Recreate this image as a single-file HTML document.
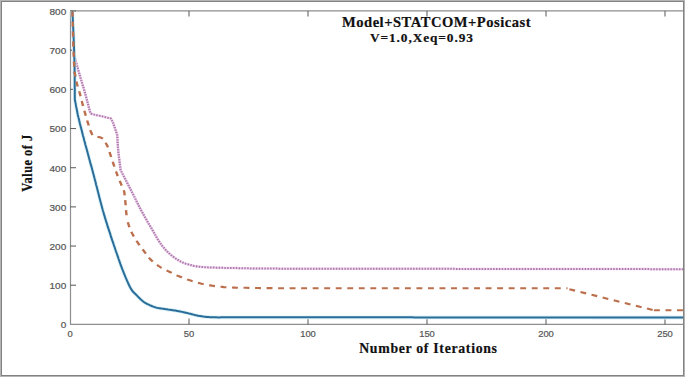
<!DOCTYPE html>
<html><head><meta charset="utf-8"><style>
html,body{margin:0;padding:0;background:#fff;}
body{width:685px;height:377px;overflow:hidden;position:relative;}
svg{position:absolute;left:0;top:0;}
</style></head><body>
<svg width="685" height="377" viewBox="0 0 685 377">
<rect x="0" y="0" width="685" height="377" fill="#ffffff"/>
<g>
<g stroke="#8e8e8e" stroke-width="1.2" fill="none">
<line x1="70.5" y1="10.9" x2="70.5" y2="324.4"/>
<line x1="70" y1="324.35" x2="683" y2="324.35"/>
<line x1="70" y1="10.9" x2="683" y2="10.9"/>
</g>
<g stroke="#656565" stroke-width="1.1" fill="none"><line x1="70" y1="285.22" x2="76" y2="285.22"/><line x1="70" y1="246.05" x2="76" y2="246.05"/><line x1="70" y1="206.88" x2="76" y2="206.88"/><line x1="70" y1="167.70" x2="76" y2="167.70"/><line x1="70" y1="128.52" x2="76" y2="128.52"/><line x1="70" y1="89.35" x2="76" y2="89.35"/><line x1="70" y1="50.18" x2="76" y2="50.18"/><line x1="70" y1="11.00" x2="76" y2="11.00"/><line x1="189.00" y1="324.4" x2="189.00" y2="318.6"/><line x1="189.00" y1="11" x2="189.00" y2="16.5"/><line x1="308.00" y1="324.4" x2="308.00" y2="318.6"/><line x1="308.00" y1="11" x2="308.00" y2="16.5"/><line x1="427.00" y1="324.4" x2="427.00" y2="318.6"/><line x1="427.00" y1="11" x2="427.00" y2="16.5"/><line x1="546.00" y1="324.4" x2="546.00" y2="318.6"/><line x1="546.00" y1="11" x2="546.00" y2="16.5"/><line x1="665.00" y1="324.4" x2="665.00" y2="318.6"/><line x1="665.00" y1="11" x2="665.00" y2="16.5"/></g>
<g font-family="Liberation Sans, sans-serif" font-size="9.8" fill="#555" stroke="#555" stroke-width="0.22"><text transform="translate(66.2,328.25) scale(1.02,1)" text-anchor="end">0</text><text transform="translate(66.2,289.07) scale(1.02,1)" text-anchor="end">100</text><text transform="translate(66.2,249.90) scale(1.02,1)" text-anchor="end">200</text><text transform="translate(66.2,210.72) scale(1.02,1)" text-anchor="end">300</text><text transform="translate(66.2,171.55) scale(1.02,1)" text-anchor="end">400</text><text transform="translate(66.2,132.37) scale(1.02,1)" text-anchor="end">500</text><text transform="translate(66.2,93.20) scale(1.02,1)" text-anchor="end">600</text><text transform="translate(66.2,54.03) scale(1.02,1)" text-anchor="end">700</text><text transform="translate(66.2,14.85) scale(1.02,1)" text-anchor="end">800</text><text transform="translate(70.00,337.4) scale(0.96,1)" text-anchor="middle">0</text><text transform="translate(189.00,337.4) scale(0.96,1)" text-anchor="middle">50</text><text transform="translate(308.00,337.4) scale(0.96,1)" text-anchor="middle">100</text><text transform="translate(427.00,337.4) scale(0.96,1)" text-anchor="middle">150</text><text transform="translate(546.00,337.4) scale(0.96,1)" text-anchor="middle">200</text><text transform="translate(665.00,337.4) scale(0.96,1)" text-anchor="middle">250</text></g>
<polyline points="72.4,11.0 72.4,12.6 72.5,14.2 72.5,15.8 72.6,17.4 72.6,19.1 72.7,20.7 72.7,22.4 72.7,24.1 72.8,25.7 72.8,27.4 72.9,29.0 72.9,30.7 73.0,32.3 73.0,33.9 73.1,35.4 73.1,36.9 73.2,38.4 73.2,39.8 73.3,41.2 73.4,42.5 73.4,43.8 73.5,45.0 73.6,46.9 73.8,48.6 74.0,50.2 74.1,51.7 74.3,53.1 74.5,54.6 74.6,56.1 74.8,57.6 75.2,59.2 75.7,60.7 76.1,62.3 76.5,63.8 76.9,65.4 77.4,67.0 77.8,68.6 78.3,70.3 78.8,72.0 79.2,73.3 79.6,74.7 80.0,76.1 80.4,77.6 80.9,79.0 81.3,80.5 81.8,82.0 82.2,83.6 82.7,85.1 83.1,86.6 83.6,88.1 84.0,89.6 84.5,91.1 84.9,92.6 85.3,94.0 85.7,95.5 86.1,97.0 86.5,98.5 86.9,100.0 87.3,101.5 87.7,103.0 88.1,104.5 88.5,105.9 88.9,107.4 89.2,108.9 89.6,110.3 90.0,111.8 90.4,113.3 90.9,113.5 91.5,113.8 92.2,114.0 93.2,114.3 94.3,114.6 95.7,114.9 97.2,115.3 98.8,115.6 100.5,116.0 102.3,116.4 104.1,116.8 105.9,117.3 107.6,117.7 109.3,118.0 110.8,118.4 111.7,120.0 112.6,121.8 113.2,123.2 113.8,124.8 114.3,126.4 114.9,128.0 115.5,129.7 116.1,131.5 116.6,133.2 117.2,135.0 117.3,136.5 117.4,138.0 117.5,139.4 117.6,140.9 117.6,142.4 117.7,143.8 117.8,145.3 117.9,146.9 118.1,148.4 118.2,150.0 118.3,151.4 118.5,152.9 118.7,154.4 118.8,155.9 119.0,157.5 119.2,159.0 119.4,160.6 119.6,162.2 119.8,163.8 120.0,165.3 120.2,166.9 120.4,168.5 120.6,170.0 121.3,171.4 122.0,172.8 122.7,174.1 123.4,175.5 124.2,176.9 124.9,178.3 125.6,179.7 126.3,181.1 127.0,182.4 127.7,183.8 128.4,185.2 129.1,186.6 129.8,187.9 130.5,189.3 131.2,190.7 131.9,192.0 132.6,193.5 133.4,194.9 134.1,196.4 134.8,197.8 135.5,199.2 136.3,200.7 137.0,202.1 137.7,203.5 138.4,205.0 139.1,206.4 139.9,207.8 140.6,209.2 141.3,210.6 142.1,212.0 142.9,213.4 143.6,214.8 144.4,216.2 145.2,217.6 146.0,219.0 146.8,220.4 147.6,221.8 148.4,223.2 149.2,224.6 150.0,225.9 150.8,227.2 151.5,228.5 152.3,229.8 153.0,231.0 153.9,232.5 154.7,234.0 155.5,235.4 156.3,236.8 157.1,238.2 157.9,239.5 158.7,240.8 159.5,242.0 160.3,243.2 161.3,244.6 162.3,246.0 163.3,247.2 164.4,248.4 165.4,249.6 166.5,250.8 167.6,251.9 168.8,253.0 170.0,254.1 171.2,255.1 172.4,256.1 173.6,257.0 175.0,258.0 176.4,259.0 177.8,259.9 179.3,260.8 180.8,261.6 182.3,262.3 183.9,263.0 185.5,263.6 187.2,264.1 188.9,264.6 190.3,265.0 191.7,265.3 193.1,265.7 194.5,266.0 196.0,266.2 197.6,266.5 199.2,266.7 200.6,266.9 202.1,267.0 203.6,267.1 205.1,267.2 206.7,267.3 208.3,267.4 209.9,267.4 211.6,267.5 213.3,267.5 215.0,267.6 216.4,267.7 217.8,267.7 219.3,267.8 220.8,267.8 222.3,267.8 223.9,267.9 225.4,267.9 227.0,268.0 228.6,268.0 230.2,268.0 231.8,268.0 233.5,268.1 235.1,268.1 236.7,268.1 238.4,268.2 240.0,268.2 241.4,268.2 242.8,268.3 244.1,268.3 245.5,268.3 246.8,268.3 248.1,268.3 249.4,268.4 250.7,268.4 252.0,268.4 253.4,268.4 254.8,268.4 256.2,268.5 257.7,268.5 259.2,268.5 260.8,268.5 262.5,268.5 264.2,268.6 266.1,268.6 268.0,268.6 270.0,268.6 270.9,268.6 271.9,268.6 272.9,268.6 273.9,268.6 274.9,268.6 275.9,268.6 276.9,268.6 278.0,268.6 279.1,268.7 280.2,268.7 281.3,268.7 282.4,268.7 283.6,268.7 284.7,268.7 285.9,268.7 287.1,268.7 288.3,268.7 289.5,268.7 290.7,268.7 292.0,268.7 293.3,268.7 294.5,268.7 295.8,268.7 297.1,268.7 298.5,268.7 299.8,268.7 301.1,268.7 302.5,268.7 303.9,268.7 305.3,268.7 306.7,268.7 308.1,268.7 309.5,268.7 310.9,268.7 312.4,268.7 313.8,268.7 315.3,268.7 316.8,268.7 318.2,268.7 319.7,268.7 321.2,268.7 322.8,268.7 324.3,268.7 325.8,268.7 327.4,268.8 328.9,268.8 330.5,268.8 332.1,268.8 333.6,268.8 335.2,268.8 336.8,268.8 338.4,268.8 340.0,268.8 341.6,268.8 343.3,268.8 344.9,268.8 346.5,268.8 348.2,268.8 349.8,268.8 351.5,268.8 353.1,268.8 354.8,268.8 356.5,268.8 358.2,268.8 359.8,268.8 361.5,268.8 363.2,268.8 364.9,268.8 366.6,268.8 368.3,268.8 370.0,268.8 371.7,268.8 373.4,268.8 375.2,268.8 376.9,268.8 378.6,268.8 380.3,268.8 382.0,268.8 383.8,268.8 385.5,268.8 387.2,268.8 388.9,268.8 390.7,268.8 392.4,268.8 394.1,268.8 395.9,268.8 397.6,268.8 399.3,268.8 401.1,268.8 402.8,268.8 404.5,268.8 406.2,268.8 408.0,268.8 409.7,268.8 411.4,268.8 413.1,268.8 414.9,268.8 416.6,268.8 418.3,268.8 420.0,268.8 421.3,268.8 422.6,268.8 423.9,268.8 425.2,268.8 426.5,268.8 427.8,268.8 429.2,268.8 430.5,268.8 431.8,268.8 433.2,268.8 434.5,268.8 435.9,268.8 437.2,268.8 438.6,268.8 439.9,268.8 441.3,268.8 442.6,268.8 444.0,268.8 445.4,268.8 446.8,268.8 448.2,268.8 449.5,268.8 450.9,268.8 452.3,268.8 453.7,268.8 455.1,268.9 456.5,268.9 457.9,268.9 459.4,268.9 460.8,268.9 462.2,268.9 463.6,268.9 465.0,268.9 466.5,268.9 467.9,268.9 469.3,268.9 470.8,268.9 472.2,268.9 473.7,268.9 475.1,268.9 476.6,268.9 478.0,268.9 479.5,268.9 481.0,268.9 482.4,268.9 483.9,268.9 485.4,268.9 486.8,268.9 488.3,268.9 489.8,268.9 491.3,268.9 492.8,268.9 494.3,268.9 495.7,268.9 497.2,268.9 498.7,268.9 500.2,268.9 501.7,268.9 503.2,268.9 504.7,268.9 506.2,268.9 507.8,268.9 509.3,268.9 510.8,268.9 512.3,268.9 513.8,268.9 515.3,268.9 516.9,268.9 518.4,268.9 519.9,268.9 521.4,269.0 523.0,269.0 524.5,269.0 526.0,269.0 527.6,269.0 529.1,269.0 530.7,269.0 532.2,269.0 533.7,269.0 535.3,269.0 536.8,269.0 538.4,269.0 539.9,269.0 541.5,269.0 543.0,269.0 544.6,269.0 546.1,269.0 547.7,269.0 549.2,269.0 550.8,269.0 552.4,269.0 553.9,269.0 555.5,269.0 557.0,269.0 558.6,269.0 560.2,269.0 561.7,269.0 563.3,269.0 564.9,269.0 566.4,269.0 568.0,269.0 569.6,269.0 571.1,269.0 572.7,269.0 574.3,269.0 575.8,269.0 577.4,269.0 579.0,269.0 580.6,269.0 582.1,269.0 583.7,269.0 585.3,269.0 586.9,269.1 588.4,269.1 590.0,269.1 591.6,269.1 593.1,269.1 594.7,269.1 596.3,269.1 597.9,269.1 599.4,269.1 601.0,269.1 602.6,269.1 604.1,269.1 605.7,269.1 607.3,269.1 608.9,269.1 610.4,269.1 612.0,269.1 613.6,269.1 615.1,269.1 616.7,269.1 618.3,269.1 619.8,269.1 621.4,269.1 623.0,269.1 624.5,269.1 626.1,269.1 627.7,269.1 629.2,269.1 630.8,269.1 632.3,269.1 633.9,269.1 635.5,269.1 637.0,269.1 638.6,269.1 640.1,269.1 641.7,269.1 643.2,269.1 644.8,269.1 646.3,269.1 647.9,269.1 649.4,269.1 651.0,269.2 652.5,269.2 654.1,269.2 655.6,269.2 657.1,269.2 658.7,269.2 660.2,269.2 661.7,269.2 663.3,269.2 664.8,269.2 666.3,269.2 667.9,269.2 669.4,269.2 670.9,269.2 672.4,269.2 673.9,269.2 675.5,269.2 677.0,269.2 678.5,269.2 680.0,269.2 681.5,269.2 683.0,269.2" fill="none" stroke="#f0d0ef" stroke-width="2.5" stroke-linejoin="round"/>
<g transform="scale(1.15,1)"><polyline points="62.96,11.0 63.00,12.6 63.04,14.2 63.08,15.8 63.12,17.4 63.15,19.1 63.19,20.7 63.22,22.4 63.26,24.1 63.29,25.7 63.33,27.4 63.37,29.0 63.40,30.7 63.44,32.3 63.48,33.9 63.53,35.4 63.57,36.9 63.62,38.4 63.67,39.8 63.73,41.2 63.78,42.5 63.85,43.8 63.91,45.0 64.03,46.9 64.17,48.6 64.31,50.2 64.45,51.7 64.60,53.1 64.75,54.6 64.90,56.1 65.04,57.6 65.42,59.2 65.80,60.7 66.17,62.3 66.54,63.8 66.91,65.4 67.29,67.0 67.68,68.6 68.09,70.3 68.52,72.0 68.86,73.3 69.21,74.7 69.57,76.1 69.95,77.6 70.33,79.0 70.72,80.5 71.11,82.0 71.51,83.6 71.91,85.1 72.30,86.6 72.69,88.1 73.08,89.6 73.46,91.1 73.82,92.6 74.17,94.0 74.54,95.5 74.90,97.0 75.25,98.5 75.60,100.0 75.94,101.5 76.27,103.0 76.61,104.5 76.94,105.9 77.27,107.4 77.60,108.9 77.93,110.3 78.27,111.8 78.61,113.3 79.01,113.5 79.57,113.8 80.18,114.0 81.01,114.3 82.02,114.6 83.20,114.9 84.51,115.3 85.93,115.6 87.41,116.0 88.95,116.4 90.51,116.8 92.05,117.3 93.56,117.7 95.00,118.0 96.35,118.4 97.13,120.0 97.91,121.8 98.42,123.2 98.92,124.8 99.42,126.4 99.91,128.0 100.42,129.7 100.92,131.5 101.42,133.2 101.91,135.0 102.00,136.5 102.07,138.0 102.15,139.4 102.22,140.9 102.29,142.4 102.37,143.8 102.46,145.3 102.55,146.9 102.66,148.4 102.78,150.0 102.91,151.4 103.04,152.9 103.19,154.4 103.34,155.9 103.50,157.5 103.67,159.0 103.84,160.6 104.01,162.2 104.19,163.8 104.36,165.3 104.54,166.9 104.71,168.5 104.87,170.0 105.48,171.4 106.10,172.8 106.72,174.1 107.34,175.5 107.96,176.9 108.58,178.3 109.20,179.7 109.82,181.1 110.43,182.4 111.05,183.8 111.66,185.2 112.28,186.6 112.89,187.9 113.49,189.3 114.10,190.7 114.70,192.0 115.34,193.5 115.98,194.9 116.61,196.4 117.24,197.8 117.87,199.2 118.49,200.7 119.11,202.1 119.74,203.5 120.36,205.0 120.99,206.4 121.62,207.8 122.26,209.2 122.91,210.6 123.57,212.0 124.22,213.4 124.90,214.8 125.58,216.2 126.27,217.6 126.97,219.0 127.67,220.4 128.37,221.8 129.07,223.2 129.76,224.6 130.44,225.9 131.12,227.2 131.78,228.5 132.42,229.8 133.04,231.0 133.80,232.5 134.53,234.0 135.24,235.4 135.93,236.8 136.62,238.2 137.31,239.5 137.99,240.8 138.69,242.0 139.39,243.2 140.27,244.6 141.15,246.0 142.02,247.2 142.91,248.4 143.83,249.6 144.78,250.8 145.76,251.9 146.76,253.0 147.79,254.1 148.84,255.1 149.89,256.1 150.96,257.0 152.17,258.0 153.40,259.0 154.64,259.9 155.91,260.8 157.22,261.6 158.56,262.3 159.93,263.0 161.33,263.6 162.77,264.1 164.26,264.6 165.46,265.0 166.67,265.3 167.91,265.7 169.17,266.0 170.48,266.2 171.82,266.5 173.22,266.7 174.45,266.9 175.72,267.0 177.02,267.1 178.34,267.2 179.70,267.3 181.09,267.4 182.51,267.4 183.96,267.5 185.44,267.5 186.96,267.6 188.17,267.7 189.42,267.7 190.70,267.8 191.99,267.8 193.32,267.8 194.66,267.9 196.02,267.9 197.39,268.0 198.78,268.0 200.18,268.0 201.59,268.0 203.00,268.1 204.43,268.1 205.85,268.1 207.27,268.2 208.70,268.2 209.92,268.2 211.12,268.3 212.29,268.3 213.44,268.3 214.58,268.3 215.72,268.3 216.86,268.4 218.00,268.4 219.16,268.4 220.34,268.4 221.55,268.4 222.80,268.5 224.08,268.5 225.42,268.5 226.80,268.5 228.25,268.5 229.77,268.6 231.36,268.6 233.03,268.6 234.78,268.6 235.60,268.6 236.43,268.6 237.27,268.6 238.14,268.6 239.01,268.6 239.91,268.6 240.81,268.6 241.74,268.6 242.67,268.7 243.63,268.7 244.59,268.7 245.57,268.7 246.57,268.7 247.58,268.7 248.60,268.7 249.64,268.7 250.69,268.7 251.75,268.7 252.82,268.7 253.91,268.7 255.01,268.7 256.12,268.7 257.25,268.7 258.38,268.7 259.53,268.7 260.69,268.7 261.86,268.7 263.05,268.7 264.24,268.7 265.44,268.7 266.66,268.7 267.88,268.7 269.12,268.7 270.36,268.7 271.62,268.7 272.88,268.7 274.16,268.7 275.44,268.7 276.73,268.7 278.04,268.7 279.35,268.7 280.66,268.7 281.99,268.7 283.33,268.7 284.67,268.8 286.02,268.8 287.38,268.8 288.75,268.8 290.12,268.8 291.50,268.8 292.89,268.8 294.28,268.8 295.68,268.8 297.08,268.8 298.50,268.8 299.91,268.8 301.34,268.8 302.77,268.8 304.20,268.8 305.64,268.8 307.09,268.8 308.53,268.8 309.99,268.8 311.45,268.8 312.91,268.8 314.37,268.8 315.84,268.8 317.32,268.8 318.79,268.8 320.27,268.8 321.76,268.8 323.24,268.8 324.73,268.8 326.22,268.8 327.72,268.8 329.21,268.8 330.71,268.8 332.21,268.8 333.71,268.8 335.21,268.8 336.71,268.8 338.21,268.8 339.72,268.8 341.22,268.8 342.73,268.8 344.23,268.8 345.74,268.8 347.24,268.8 348.75,268.8 350.25,268.8 351.76,268.8 353.26,268.8 354.76,268.8 356.26,268.8 357.76,268.8 359.25,268.8 360.75,268.8 362.24,268.8 363.73,268.8 365.22,268.8 366.34,268.8 367.47,268.8 368.61,268.8 369.75,268.8 370.89,268.8 372.04,268.8 373.19,268.8 374.34,268.8 375.50,268.8 376.67,268.8 377.83,268.8 379.00,268.8 380.18,268.8 381.35,268.8 382.53,268.8 383.72,268.8 384.91,268.8 386.10,268.8 387.30,268.8 388.49,268.8 389.70,268.8 390.90,268.8 392.11,268.8 393.32,268.8 394.54,268.8 395.76,268.9 396.98,268.9 398.21,268.9 399.44,268.9 400.67,268.9 401.90,268.9 403.14,268.9 404.38,268.9 405.63,268.9 406.87,268.9 408.12,268.9 409.38,268.9 410.63,268.9 411.89,268.9 413.15,268.9 414.42,268.9 415.68,268.9 416.95,268.9 418.22,268.9 419.50,268.9 420.78,268.9 422.06,268.9 423.34,268.9 424.62,268.9 425.91,268.9 427.20,268.9 428.49,268.9 429.78,268.9 431.08,268.9 432.38,268.9 433.68,268.9 434.98,268.9 436.29,268.9 437.60,268.9 438.91,268.9 440.22,268.9 441.53,268.9 442.84,268.9 444.16,268.9 445.48,268.9 446.80,268.9 448.12,268.9 449.45,268.9 450.77,268.9 452.10,268.9 453.43,269.0 454.76,269.0 456.10,269.0 457.43,269.0 458.77,269.0 460.10,269.0 461.44,269.0 462.78,269.0 464.12,269.0 465.47,269.0 466.81,269.0 468.16,269.0 469.50,269.0 470.85,269.0 472.20,269.0 473.55,269.0 474.90,269.0 476.25,269.0 477.61,269.0 478.96,269.0 480.32,269.0 481.67,269.0 483.03,269.0 484.39,269.0 485.75,269.0 487.11,269.0 488.47,269.0 489.83,269.0 491.19,269.0 492.55,269.0 493.92,269.0 495.28,269.0 496.64,269.0 498.01,269.0 499.37,269.0 500.74,269.0 502.10,269.0 503.47,269.0 504.84,269.0 506.20,269.0 507.57,269.0 508.94,269.0 510.30,269.1 511.67,269.1 513.04,269.1 514.41,269.1 515.77,269.1 517.14,269.1 518.51,269.1 519.88,269.1 521.24,269.1 522.61,269.1 523.98,269.1 525.35,269.1 526.71,269.1 528.08,269.1 529.44,269.1 530.81,269.1 532.17,269.1 533.54,269.1 534.90,269.1 536.27,269.1 537.63,269.1 538.99,269.1 540.35,269.1 541.72,269.1 543.08,269.1 544.44,269.1 545.79,269.1 547.15,269.1 548.51,269.1 549.87,269.1 551.22,269.1 552.58,269.1 553.93,269.1 555.28,269.1 556.64,269.1 557.99,269.1 559.34,269.1 560.68,269.1 562.03,269.1 563.38,269.1 564.72,269.1 566.07,269.2 567.41,269.2 568.75,269.2 570.09,269.2 571.43,269.2 572.76,269.2 574.10,269.2 575.43,269.2 576.76,269.2 578.09,269.2 579.42,269.2 580.75,269.2 582.07,269.2 583.39,269.2 584.72,269.2 586.04,269.2 587.35,269.2 588.67,269.2 589.98,269.2 591.30,269.2 592.61,269.2 593.91,269.2" fill="none" stroke="#a87ca6" stroke-width="2" stroke-dasharray="1.261 1.226" stroke-linejoin="round"/></g>
<polyline points="72.4,11.0 72.5,12.6 72.5,14.1 72.6,15.7 72.7,17.3 72.8,18.8 72.8,20.4 72.9,22.0 73.0,23.6 73.1,25.2 73.1,26.7 73.2,28.3 73.3,29.9 73.3,31.5 73.4,33.0 73.5,34.6 73.5,36.1 73.6,37.6 73.7,39.1 73.7,40.6 73.8,42.1 73.8,43.6 73.9,45.0 74.0,46.7 74.0,48.3 74.1,49.9 74.1,51.5 74.2,53.0 74.2,54.6 74.3,56.1 74.3,57.6 74.4,59.1 74.4,60.6 74.4,62.2 74.5,63.7 74.5,65.2 74.5,66.8 74.6,68.4 74.6,70.0 74.6,71.5 74.6,73.0 74.7,74.5 74.7,76.1 74.7,77.6 74.7,79.1 74.7,80.7 74.7,82.2 74.7,83.8 74.7,85.4 74.7,87.0 74.8,88.5 74.8,90.1 74.8,91.7 74.8,93.2 74.8,94.8 74.8,96.4 74.8,97.9 74.8,99.5 75.1,101.0 75.4,102.5 75.7,103.9 75.9,105.4 76.2,106.9 76.5,108.3 76.8,109.8 77.1,111.3 77.4,112.8 77.7,114.4 78.1,116.0 78.4,117.4 78.8,118.8 79.1,120.3 79.5,121.7 79.8,123.2 80.2,124.7 80.6,126.2 81.0,127.7 81.4,129.3 81.8,130.8 82.2,132.4 82.6,134.0 83.0,135.7 83.5,137.3 83.9,139.0 84.2,140.3 84.6,141.7 85.0,143.0 85.3,144.4 85.7,145.8 86.1,147.2 86.5,148.6 86.9,150.0 87.3,151.5 87.7,152.9 88.1,154.4 88.5,155.9 88.9,157.4 89.3,158.9 89.7,160.4 90.1,161.9 90.5,163.4 90.9,164.9 91.4,166.4 91.8,167.9 92.2,169.5 92.6,171.0 93.0,172.5 93.4,174.0 93.8,175.4 94.2,176.9 94.5,178.3 94.9,179.8 95.3,181.2 95.7,182.7 96.0,184.2 96.4,185.7 96.8,187.1 97.2,188.6 97.5,190.1 97.9,191.6 98.3,193.1 98.7,194.6 99.0,196.1 99.4,197.6 99.8,199.1 100.2,200.6 100.6,202.1 101.0,203.6 101.4,205.1 101.8,206.6 102.2,208.1 102.6,209.6 103.0,211.0 103.5,212.5 103.9,214.0 104.3,215.4 104.8,216.9 105.2,218.4 105.7,219.9 106.1,221.4 106.6,222.9 107.1,224.4 107.5,225.9 108.0,227.4 108.5,228.9 109.0,230.4 109.5,231.9 110.0,233.4 110.5,234.9 110.9,236.4 111.4,237.9 111.9,239.4 112.4,240.8 112.9,242.2 113.4,243.6 113.8,245.0 114.3,246.4 114.8,247.7 115.2,249.0 115.6,250.3 116.1,251.6 116.5,252.8 116.9,254.0 117.5,255.7 118.1,257.4 118.6,259.0 119.2,260.6 119.7,262.1 120.2,263.5 120.7,265.0 121.3,266.4 121.8,267.8 122.3,269.2 122.9,270.6 123.4,272.0 124.0,273.4 124.6,274.9 125.2,276.4 125.8,277.9 126.5,279.4 127.1,280.9 127.8,282.3 128.4,283.8 129.1,285.2 129.7,286.5 130.4,287.7 131.0,288.9 131.7,289.9 132.7,291.3 133.8,292.5 134.9,293.5 135.9,294.5 137.0,295.6 138.3,297.0 139.6,298.3 140.9,299.6 142.3,300.8 143.5,301.7 144.8,302.6 146.1,303.3 147.5,304.1 148.8,304.7 150.2,305.4 151.7,306.0 153.3,306.6 154.8,307.1 156.3,307.6 158.0,308.0 159.7,308.3 161.4,308.6 163.2,308.8 165.0,309.1 166.5,309.3 168.1,309.6 169.7,309.8 171.4,310.0 172.9,310.2 174.3,310.4 175.5,310.6 177.2,310.9 178.8,311.2 180.3,311.5 182.0,311.9 183.8,312.3 185.7,312.7 187.5,313.1 189.0,313.5 190.4,313.8 191.9,314.2 193.4,314.6 194.8,315.0 196.3,315.3 198.0,315.7 199.8,316.0 201.5,316.3 203.3,316.6 205.0,316.8 206.7,317.0 208.4,317.1 210.1,317.2 211.9,317.2 213.8,317.3 215.2,317.3 216.5,317.3 217.9,317.4 219.4,317.4 220.9,317.3 222.5,317.3 224.2,317.3 226.0,317.3 227.9,317.3 230.0,317.3 231.0,317.3 232.0,317.3 233.1,317.3 234.1,317.3 235.2,317.3 236.3,317.3 237.4,317.3 238.6,317.3 239.7,317.3 240.9,317.3 242.1,317.3 243.4,317.3 244.6,317.3 245.9,317.3 247.2,317.3 248.5,317.3 249.8,317.3 251.2,317.3 252.6,317.3 254.0,317.3 255.5,317.3 256.9,317.3 258.4,317.3 259.9,317.3 261.5,317.3 263.0,317.3 264.6,317.3 266.3,317.3 267.9,317.3 269.6,317.3 271.3,317.3 273.0,317.3 274.7,317.3 276.5,317.3 278.3,317.3 280.1,317.3 282.0,317.3 283.9,317.3 285.8,317.3 287.7,317.3 289.7,317.3 291.7,317.3 293.7,317.3 295.8,317.3 297.9,317.3 300.0,317.3 300.9,317.3 301.8,317.3 302.7,317.3 303.7,317.3 304.6,317.3 305.6,317.3 306.5,317.3 307.5,317.3 308.5,317.3 309.5,317.3 310.5,317.3 311.5,317.3 312.5,317.3 313.5,317.3 314.5,317.3 315.6,317.3 316.6,317.3 317.7,317.3 318.7,317.3 319.8,317.3 320.9,317.3 322.0,317.3 323.1,317.3 324.2,317.3 325.3,317.3 326.4,317.3 327.6,317.3 328.7,317.3 329.8,317.3 331.0,317.3 332.2,317.3 333.3,317.3 334.5,317.3 335.7,317.3 336.9,317.3 338.1,317.3 339.3,317.3 340.5,317.3 341.7,317.3 343.0,317.3 344.2,317.3 345.4,317.3 346.7,317.3 347.9,317.3 349.2,317.3 350.5,317.3 351.8,317.3 353.0,317.3 354.3,317.3 355.6,317.3 356.9,317.3 358.3,317.3 359.6,317.3 360.9,317.3 362.2,317.3 363.6,317.3 364.9,317.3 366.3,317.3 367.6,317.3 369.0,317.3 370.4,317.3 371.7,317.3 373.1,317.3 374.5,317.3 375.9,317.3 377.3,317.3 378.7,317.3 380.1,317.3 381.5,317.3 382.9,317.3 384.4,317.3 385.8,317.3 387.2,317.3 388.7,317.3 390.1,317.3 391.6,317.3 393.1,317.3 394.5,317.3 396.0,317.3 397.5,317.3 398.9,317.3 400.4,317.3 401.9,317.3 403.4,317.3 404.9,317.3 406.4,317.3 407.9,317.3 409.4,317.3 411.0,317.3 412.5,317.3 414.0,317.4 415.5,317.4 417.1,317.4 418.6,317.4 420.2,317.4 421.7,317.4 423.3,317.4 424.8,317.4 426.4,317.4 427.9,317.4 429.5,317.4 431.1,317.4 432.7,317.4 434.2,317.4 435.8,317.4 437.4,317.4 439.0,317.4 440.6,317.4 442.2,317.4 443.8,317.4 445.4,317.4 447.0,317.4 448.6,317.4 450.2,317.4 451.8,317.4 453.5,317.4 455.1,317.4 456.7,317.4 458.3,317.4 460.0,317.4 461.6,317.4 463.2,317.4 464.9,317.4 466.5,317.4 468.2,317.4 469.8,317.4 471.5,317.4 473.1,317.4 474.8,317.4 476.4,317.4 478.1,317.4 479.8,317.4 481.4,317.4 483.1,317.4 484.8,317.4 486.4,317.4 488.1,317.4 489.8,317.4 491.4,317.4 493.1,317.4 494.8,317.4 496.5,317.4 498.2,317.4 499.8,317.4 501.5,317.4 503.2,317.4 504.9,317.4 506.6,317.4 508.3,317.4 510.0,317.4 511.7,317.4 513.4,317.4 515.1,317.4 516.7,317.4 518.4,317.4 520.1,317.4 521.8,317.4 523.5,317.4 525.2,317.4 526.9,317.4 528.6,317.4 530.3,317.4 532.0,317.4 533.7,317.4 535.4,317.4 537.1,317.4 538.8,317.4 540.6,317.4 542.3,317.4 544.0,317.4 545.7,317.4 547.4,317.4 549.1,317.4 550.8,317.4 552.5,317.4 554.2,317.4 555.9,317.4 557.6,317.4 559.3,317.4 561.0,317.4 562.7,317.4 564.4,317.4 566.1,317.4 567.8,317.4 569.5,317.4 571.2,317.4 572.9,317.4 574.6,317.4 576.2,317.4 577.9,317.4 579.6,317.4 581.3,317.4 583.0,317.4 584.7,317.4 586.4,317.4 588.1,317.4 589.7,317.4 591.4,317.4 593.1,317.5 594.8,317.5 596.5,317.5 598.1,317.5 599.8,317.5 601.5,317.5 603.2,317.5 604.8,317.5 606.5,317.5 608.2,317.5 609.8,317.5 611.5,317.5 613.1,317.5 614.8,317.5 616.4,317.5 618.1,317.5 619.7,317.5 621.4,317.5 623.0,317.5 624.7,317.5 626.3,317.5 627.9,317.5 629.6,317.5 631.2,317.5 632.8,317.5 634.4,317.5 636.1,317.5 637.7,317.5 639.3,317.5 640.9,317.5 642.5,317.5 644.1,317.5 645.7,317.5 647.3,317.5 648.9,317.5 650.5,317.5 652.1,317.5 653.7,317.5 655.3,317.5 656.8,317.5 658.4,317.5 660.0,317.5 661.5,317.5 663.1,317.5 664.7,317.5 666.2,317.5 667.8,317.5 669.3,317.5 670.8,317.5 672.4,317.5 673.9,317.5 675.4,317.5 677.0,317.5 678.5,317.5 680.0,317.5 681.5,317.5 683.0,317.5" fill="none" stroke="#dcf2f7" stroke-width="3.8" stroke-linejoin="round"/>
<polyline points="72.4,11.0 72.5,12.6 72.5,14.1 72.6,15.7 72.7,17.3 72.8,18.8 72.8,20.4 72.9,22.0 73.0,23.6 73.1,25.2 73.1,26.7 73.2,28.3 73.3,29.9 73.3,31.5 73.4,33.0 73.5,34.6 73.5,36.1 73.6,37.6 73.7,39.1 73.7,40.6 73.8,42.1 73.8,43.6 73.9,45.0 74.0,46.7 74.0,48.3 74.1,49.9 74.1,51.5 74.2,53.0 74.2,54.6 74.3,56.1 74.3,57.6 74.4,59.1 74.4,60.6 74.4,62.2 74.5,63.7 74.5,65.2 74.5,66.8 74.6,68.4 74.6,70.0 74.6,71.5 74.6,73.0 74.7,74.5 74.7,76.1 74.7,77.6 74.7,79.1 74.7,80.7 74.7,82.2 74.7,83.8 74.7,85.4 74.7,87.0 74.8,88.5 74.8,90.1 74.8,91.7 74.8,93.2 74.8,94.8 74.8,96.4 74.8,97.9 74.8,99.5 75.1,101.0 75.4,102.5 75.7,103.9 75.9,105.4 76.2,106.9 76.5,108.3 76.8,109.8 77.1,111.3 77.4,112.8 77.7,114.4 78.1,116.0 78.4,117.4 78.8,118.8 79.1,120.3 79.5,121.7 79.8,123.2 80.2,124.7 80.6,126.2 81.0,127.7 81.4,129.3 81.8,130.8 82.2,132.4 82.6,134.0 83.0,135.7 83.5,137.3 83.9,139.0 84.2,140.3 84.6,141.7 85.0,143.0 85.3,144.4 85.7,145.8 86.1,147.2 86.5,148.6 86.9,150.0 87.3,151.5 87.7,152.9 88.1,154.4 88.5,155.9 88.9,157.4 89.3,158.9 89.7,160.4 90.1,161.9 90.5,163.4 90.9,164.9 91.4,166.4 91.8,167.9 92.2,169.5 92.6,171.0 93.0,172.5 93.4,174.0 93.8,175.4 94.2,176.9 94.5,178.3 94.9,179.8 95.3,181.2 95.7,182.7 96.0,184.2 96.4,185.7 96.8,187.1 97.2,188.6 97.5,190.1 97.9,191.6 98.3,193.1 98.7,194.6 99.0,196.1 99.4,197.6 99.8,199.1 100.2,200.6 100.6,202.1 101.0,203.6 101.4,205.1 101.8,206.6 102.2,208.1 102.6,209.6 103.0,211.0 103.5,212.5 103.9,214.0 104.3,215.4 104.8,216.9 105.2,218.4 105.7,219.9 106.1,221.4 106.6,222.9 107.1,224.4 107.5,225.9 108.0,227.4 108.5,228.9 109.0,230.4 109.5,231.9 110.0,233.4 110.5,234.9 110.9,236.4 111.4,237.9 111.9,239.4 112.4,240.8 112.9,242.2 113.4,243.6 113.8,245.0 114.3,246.4 114.8,247.7 115.2,249.0 115.6,250.3 116.1,251.6 116.5,252.8 116.9,254.0 117.5,255.7 118.1,257.4 118.6,259.0 119.2,260.6 119.7,262.1 120.2,263.5 120.7,265.0 121.3,266.4 121.8,267.8 122.3,269.2 122.9,270.6 123.4,272.0 124.0,273.4 124.6,274.9 125.2,276.4 125.8,277.9 126.5,279.4 127.1,280.9 127.8,282.3 128.4,283.8 129.1,285.2 129.7,286.5 130.4,287.7 131.0,288.9 131.7,289.9 132.7,291.3 133.8,292.5 134.9,293.5 135.9,294.5 137.0,295.6 138.3,297.0 139.6,298.3 140.9,299.6 142.3,300.8 143.5,301.7 144.8,302.6 146.1,303.3 147.5,304.1 148.8,304.7 150.2,305.4 151.7,306.0 153.3,306.6 154.8,307.1 156.3,307.6 158.0,308.0 159.7,308.3 161.4,308.6 163.2,308.8 165.0,309.1 166.5,309.3 168.1,309.6 169.7,309.8 171.4,310.0 172.9,310.2 174.3,310.4 175.5,310.6 177.2,310.9 178.8,311.2 180.3,311.5 182.0,311.9 183.8,312.3 185.7,312.7 187.5,313.1 189.0,313.5 190.4,313.8 191.9,314.2 193.4,314.6 194.8,315.0 196.3,315.3 198.0,315.7 199.8,316.0 201.5,316.3 203.3,316.6 205.0,316.8 206.7,317.0 208.4,317.1 210.1,317.2 211.9,317.2 213.8,317.3 215.2,317.3 216.5,317.3 217.9,317.4 219.4,317.4 220.9,317.3 222.5,317.3 224.2,317.3 226.0,317.3 227.9,317.3 230.0,317.3 231.0,317.3 232.0,317.3 233.1,317.3 234.1,317.3 235.2,317.3 236.3,317.3 237.4,317.3 238.6,317.3 239.7,317.3 240.9,317.3 242.1,317.3 243.4,317.3 244.6,317.3 245.9,317.3 247.2,317.3 248.5,317.3 249.8,317.3 251.2,317.3 252.6,317.3 254.0,317.3 255.5,317.3 256.9,317.3 258.4,317.3 259.9,317.3 261.5,317.3 263.0,317.3 264.6,317.3 266.3,317.3 267.9,317.3 269.6,317.3 271.3,317.3 273.0,317.3 274.7,317.3 276.5,317.3 278.3,317.3 280.1,317.3 282.0,317.3 283.9,317.3 285.8,317.3 287.7,317.3 289.7,317.3 291.7,317.3 293.7,317.3 295.8,317.3 297.9,317.3 300.0,317.3 300.9,317.3 301.8,317.3 302.7,317.3 303.7,317.3 304.6,317.3 305.6,317.3 306.5,317.3 307.5,317.3 308.5,317.3 309.5,317.3 310.5,317.3 311.5,317.3 312.5,317.3 313.5,317.3 314.5,317.3 315.6,317.3 316.6,317.3 317.7,317.3 318.7,317.3 319.8,317.3 320.9,317.3 322.0,317.3 323.1,317.3 324.2,317.3 325.3,317.3 326.4,317.3 327.6,317.3 328.7,317.3 329.8,317.3 331.0,317.3 332.2,317.3 333.3,317.3 334.5,317.3 335.7,317.3 336.9,317.3 338.1,317.3 339.3,317.3 340.5,317.3 341.7,317.3 343.0,317.3 344.2,317.3 345.4,317.3 346.7,317.3 347.9,317.3 349.2,317.3 350.5,317.3 351.8,317.3 353.0,317.3 354.3,317.3 355.6,317.3 356.9,317.3 358.3,317.3 359.6,317.3 360.9,317.3 362.2,317.3 363.6,317.3 364.9,317.3 366.3,317.3 367.6,317.3 369.0,317.3 370.4,317.3 371.7,317.3 373.1,317.3 374.5,317.3 375.9,317.3 377.3,317.3 378.7,317.3 380.1,317.3 381.5,317.3 382.9,317.3 384.4,317.3 385.8,317.3 387.2,317.3 388.7,317.3 390.1,317.3 391.6,317.3 393.1,317.3 394.5,317.3 396.0,317.3 397.5,317.3 398.9,317.3 400.4,317.3 401.9,317.3 403.4,317.3 404.9,317.3 406.4,317.3 407.9,317.3 409.4,317.3 411.0,317.3 412.5,317.3 414.0,317.4 415.5,317.4 417.1,317.4 418.6,317.4 420.2,317.4 421.7,317.4 423.3,317.4 424.8,317.4 426.4,317.4 427.9,317.4 429.5,317.4 431.1,317.4 432.7,317.4 434.2,317.4 435.8,317.4 437.4,317.4 439.0,317.4 440.6,317.4 442.2,317.4 443.8,317.4 445.4,317.4 447.0,317.4 448.6,317.4 450.2,317.4 451.8,317.4 453.5,317.4 455.1,317.4 456.7,317.4 458.3,317.4 460.0,317.4 461.6,317.4 463.2,317.4 464.9,317.4 466.5,317.4 468.2,317.4 469.8,317.4 471.5,317.4 473.1,317.4 474.8,317.4 476.4,317.4 478.1,317.4 479.8,317.4 481.4,317.4 483.1,317.4 484.8,317.4 486.4,317.4 488.1,317.4 489.8,317.4 491.4,317.4 493.1,317.4 494.8,317.4 496.5,317.4 498.2,317.4 499.8,317.4 501.5,317.4 503.2,317.4 504.9,317.4 506.6,317.4 508.3,317.4 510.0,317.4 511.7,317.4 513.4,317.4 515.1,317.4 516.7,317.4 518.4,317.4 520.1,317.4 521.8,317.4 523.5,317.4 525.2,317.4 526.9,317.4 528.6,317.4 530.3,317.4 532.0,317.4 533.7,317.4 535.4,317.4 537.1,317.4 538.8,317.4 540.6,317.4 542.3,317.4 544.0,317.4 545.7,317.4 547.4,317.4 549.1,317.4 550.8,317.4 552.5,317.4 554.2,317.4 555.9,317.4 557.6,317.4 559.3,317.4 561.0,317.4 562.7,317.4 564.4,317.4 566.1,317.4 567.8,317.4 569.5,317.4 571.2,317.4 572.9,317.4 574.6,317.4 576.2,317.4 577.9,317.4 579.6,317.4 581.3,317.4 583.0,317.4 584.7,317.4 586.4,317.4 588.1,317.4 589.7,317.4 591.4,317.4 593.1,317.5 594.8,317.5 596.5,317.5 598.1,317.5 599.8,317.5 601.5,317.5 603.2,317.5 604.8,317.5 606.5,317.5 608.2,317.5 609.8,317.5 611.5,317.5 613.1,317.5 614.8,317.5 616.4,317.5 618.1,317.5 619.7,317.5 621.4,317.5 623.0,317.5 624.7,317.5 626.3,317.5 627.9,317.5 629.6,317.5 631.2,317.5 632.8,317.5 634.4,317.5 636.1,317.5 637.7,317.5 639.3,317.5 640.9,317.5 642.5,317.5 644.1,317.5 645.7,317.5 647.3,317.5 648.9,317.5 650.5,317.5 652.1,317.5 653.7,317.5 655.3,317.5 656.8,317.5 658.4,317.5 660.0,317.5 661.5,317.5 663.1,317.5 664.7,317.5 666.2,317.5 667.8,317.5 669.3,317.5 670.8,317.5 672.4,317.5 673.9,317.5 675.4,317.5 677.0,317.5 678.5,317.5 680.0,317.5 681.5,317.5 683.0,317.5" fill="none" stroke="#2b6d99" stroke-width="2.0" stroke-linejoin="round"/>
<g transform="scale(1.15,1)" fill="none" stroke="#bb6f4d" stroke-width="2.1" stroke-dasharray="5.130 4.896" stroke-linejoin="round">
<polyline points="62.96,11.0 62.99,12.5 63.03,14.0 63.07,15.6 63.10,17.1 63.14,18.7 63.17,20.2 63.21,21.8 63.24,23.4 63.28,24.9 63.31,26.5 63.35,28.1 63.38,29.6 63.42,31.2 63.46,32.7 63.49,34.3 63.53,35.8 63.56,37.3 63.60,38.8 63.64,40.3 63.68,41.8 63.71,43.2 63.75,44.6 63.79,46.0 63.83,47.4 63.87,48.7 63.91,50.0 63.97,51.8 64.03,53.5 64.09,55.1 64.15,56.7 64.21,58.3 64.28,59.9 64.34,61.4 64.40,62.9 64.47,64.4 64.53,65.9 64.59,67.4 64.66,68.9 64.72,70.4 64.78,72.0 65.06,73.6 65.34,75.1 65.61,76.7 65.89,78.3 66.16,79.9 66.45,81.4 66.74,82.9 67.04,84.3 67.40,85.8 67.78,87.3 68.16,88.7 68.54,90.1 68.93,91.5 69.30,93.0 69.66,94.5 70.01,96.0 70.35,97.6 70.70,99.2 71.05,100.8 71.39,102.4 71.74,103.9 72.11,105.5 72.48,107.1 72.85,108.6 73.23,110.2 73.61,111.7 74.00,113.3 74.37,114.8 74.74,116.3 75.13,117.8 75.51,119.3 75.91,120.9 76.30,122.4 76.70,123.8 77.13,125.4 77.57,126.9 78.01,128.5 78.45,130.0 78.88,131.3 79.30,132.5 80.05,134.2 80.78,135.6 82.31,136.0 83.91,136.5 85.47,136.9 86.89,137.3 88.09,137.8 89.35,138.5 90.43,139.2 90.83,140.4 91.30,141.7 91.98,143.1 92.79,144.7 93.57,146.5 94.10,148.0 94.60,149.7 95.09,151.4 95.58,153.2 96.09,155.0 96.54,156.6 97.00,158.2 97.47,159.8 97.93,161.4 98.40,163.0 98.87,164.6 99.34,166.2 99.80,167.8 100.27,169.4 100.75,171.0 101.23,172.5 101.74,174.1 102.27,175.7 102.81,177.2 103.37,178.8 103.94,180.4 104.50,181.9 105.04,183.4 105.64,185.1 106.24,186.7 106.82,188.3 107.41,189.9 108.00,191.5 108.18,193.2 108.36,194.9 108.54,196.5 108.71,198.3 108.87,200.0 109.00,201.6 109.11,203.3 109.22,204.9 109.33,206.6 109.44,208.3 109.57,210.0 109.70,211.7 109.84,213.3 109.99,215.0 110.14,216.7 110.29,218.3 110.43,220.0" stroke-dashoffset="-0.50"/>
<polyline points="110.43,220.0 110.90,221.5 111.35,223.0 111.79,224.5 112.23,226.1 112.69,227.6 113.17,229.1 113.69,230.5 114.26,232.0 114.88,233.4 115.55,234.8 116.25,236.2 116.97,237.6 117.72,239.0 118.48,240.4 119.24,241.7 120.00,243.0 120.84,244.4 121.71,245.8 122.60,247.2 123.49,248.6 124.37,249.9 125.24,251.2 126.09,252.5 127.06,254.0 127.99,255.4 128.91,256.8 129.89,258.2 130.96,259.5 131.86,260.5 132.82,261.5 133.82,262.5 134.85,263.5 135.91,264.4 136.99,265.3 138.09,266.2 139.23,267.0 140.40,267.8 141.60,268.5 142.81,269.2 144.05,269.9 145.28,270.6 146.52,271.3 147.77,272.0 149.00,272.7 150.22,273.5 151.47,274.2 152.78,274.9 154.16,275.6 155.65,276.3 156.75,276.8 157.91,277.3 159.12,277.9 160.38,278.4 161.67,278.9 163.00,279.5 164.35,280.0 165.72,280.5 167.10,281.1 168.48,281.5 169.86,282.0 171.23,282.5 172.58,282.9 173.91,283.3 175.20,283.7 176.48,284.0 177.75,284.3 179.02,284.6 180.28,284.9 181.55,285.2 182.83,285.4 184.11,285.6 185.41,285.9 186.72,286.1 188.05,286.3 189.40,286.5 190.77,286.6 192.17,286.8 193.39,286.9 194.60,287.1 195.81,287.2 197.02,287.3 198.23,287.3 199.45,287.4 200.69,287.5 201.93,287.5 203.20,287.6 204.48,287.6 205.79,287.7 207.12,287.7 208.48,287.7 209.87,287.7 211.29,287.8 212.75,287.8 214.25,287.8 215.80,287.9 217.39,287.9 218.43,287.9 219.48,287.9 220.53,288.0 221.60,288.0 222.67,288.0 223.75,288.0 224.84,288.0 225.95,288.1 227.06,288.1 228.18,288.1 229.31,288.1 230.45,288.1 231.61,288.1 232.77,288.1 233.95,288.1 235.14,288.1 236.35,288.1 237.56,288.1 238.79,288.2 240.03,288.2 241.29,288.2 242.56,288.2 243.85,288.2 245.15,288.2 246.47,288.2 247.80,288.2 249.15,288.2 250.51,288.2 251.90,288.2 253.29,288.2 254.71,288.2 256.14,288.2 257.60,288.2 259.07,288.2 260.56,288.2 262.06,288.2 263.59,288.2 265.14,288.2 266.70,288.2 268.29,288.2 269.90,288.2 271.53,288.2 273.18,288.2 274.85,288.2 276.54,288.2 278.26,288.2 279.17,288.2 280.09,288.2 281.02,288.2 281.96,288.2 282.91,288.2 283.87,288.2 284.83,288.2 285.81,288.2 286.79,288.2 287.79,288.2 288.79,288.2 289.80,288.2 290.82,288.2 291.85,288.2 292.88,288.2 293.93,288.2 294.98,288.2 296.04,288.2 297.11,288.2 298.19,288.2 299.28,288.2 300.37,288.2 301.47,288.2 302.58,288.2 303.69,288.2 304.82,288.2 305.95,288.3 307.09,288.3 308.23,288.3 309.39,288.3 310.54,288.3 311.71,288.3 312.88,288.3 314.06,288.3 315.25,288.3 316.44,288.3 317.64,288.3 318.85,288.3 320.06,288.3 321.28,288.3 322.51,288.3 323.74,288.3 324.98,288.3 326.22,288.3 327.47,288.3 328.72,288.3 329.98,288.3 331.25,288.3 332.52,288.3 333.80,288.3 335.08,288.3 336.36,288.3 337.66,288.3 338.95,288.3 340.25,288.3 341.56,288.3 342.87,288.3 344.19,288.3 345.51,288.3 346.84,288.3 348.16,288.3 349.50,288.3 350.84,288.3 352.18,288.3 353.53,288.3 354.88,288.3 356.23,288.3 357.59,288.3 358.95,288.3 360.31,288.3 361.68,288.3 363.06,288.3 364.43,288.3 365.81,288.3 367.19,288.3 368.58,288.3 369.96,288.3 371.35,288.3 372.75,288.3 374.14,288.3 375.54,288.3 376.95,288.3 378.35,288.3 379.76,288.3 381.16,288.3 382.58,288.3 383.99,288.3 385.40,288.3 386.82,288.3 388.24,288.3 389.66,288.3 391.08,288.3 392.51,288.3 393.93,288.3 395.36,288.3 396.79,288.3 398.21,288.3 399.65,288.3 401.08,288.3 402.51,288.3 403.94,288.3 405.38,288.3 406.81,288.3 408.25,288.3 409.68,288.3 411.12,288.3 412.56,288.3 413.99,288.3 415.43,288.3 416.87,288.3 418.30,288.3 419.74,288.3 421.18,288.3 422.61,288.3 424.05,288.3 425.49,288.3 426.92,288.3 428.36,288.3 429.79,288.3 431.22,288.3 432.66,288.3 434.09,288.3 435.52,288.3 436.95,288.3 438.38,288.3 439.80,288.3 441.23,288.3 442.65,288.3 444.07,288.3 445.49,288.3 446.91,288.3 448.33,288.3 449.74,288.3 451.16,288.3 452.57,288.3 453.98,288.3 455.38,288.3 456.79,288.3 458.19,288.3 459.59,288.3 460.98,288.3 462.38,288.3 463.77,288.3 465.16,288.3 466.54,288.3 467.92,288.3 469.30,288.3 470.68,288.3 472.05,288.3 473.42,288.3 474.78,288.3 476.15,288.3 477.50,288.3 478.86,288.3 480.21,288.3 481.55,288.3 482.90,288.3 484.23,288.3 485.57,288.3 486.90,288.3 488.22,288.3 489.54,288.3 490.86,288.3 492.17,288.3 493.48,288.3" stroke-dashoffset="7.60"/>
<polyline points="493.48,288.3 494.35,289.0 567.83,310.0" stroke-dashoffset="8.13"/>
<polyline points="567.83,310.0 569.13,310.3 593.91,310.3" stroke-dashoffset="9.16"/>
</g>
<g font-family="Liberation Serif, serif" font-weight="bold" fill="#111" stroke="#111" stroke-width="0.2">
<text transform="translate(342,26.7) scale(1.04,1)" font-size="14" letter-spacing="0.5">Model+STATCOM+Posicast</text>
<text transform="translate(370,42.2) scale(1.06,1)" font-size="12.6" letter-spacing="0.85">V=1.0,Xeq=0.93</text>
<text transform="translate(359.2,352.8) scale(1.0,1)" font-size="13.8" letter-spacing="0.69">Number of Iterations</text>
<text transform="translate(32.2,191.8) rotate(-90) scale(1,1.11)" font-size="12.4" letter-spacing="0.5">Value of J</text>
</g>
</g>
<path d="M0,0H685V377H0Z M1,1V376H684V1Z" fill="#b4b4b4" fill-rule="evenodd"/>
<path d="M1,1H684V376H1Z M2,2V375H683V2Z" fill="#828282" fill-rule="evenodd"/>
</svg>
</body></html>
